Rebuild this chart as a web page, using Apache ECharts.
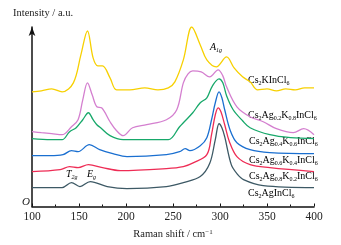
<!DOCTYPE html>
<html><head><meta charset="utf-8">
<script src="https://cdn.jsdelivr.net/npm/echarts@6/dist/echarts.min.js"></script>
<style>html,body{margin:0;padding:0;background:#fff}#c{width:341px;height:245px}</style>
</head><body><div id="c"></div>
<script>
// Raman shift (cm^-1) and intensity (a.u., offset traces)
const xTicks = [100, 150, 200, 250, 300, 350, 400];

const yellowX = [100,110,121,132,144,152,159,165,170,175,183,190,204,220,234,245,252,261,270,279,286,296,307,315,324,332,340,350,360,370,380,390,400];
const yellowY = [115,116,118,115,124,152,176,149,141,141,129,117,117,119,117,119,125,147,180,162,147,140,150,139,130,125,117,118,116,118,117,119,119];

const pinkX = [100,110,121,132,142,149,154,159,164,169,174,183,190,197,207,222,243,254,261,266,271,280,289,298,303,307,318,332,346,360,378,389,400];
const pinkY = [75,74,73,72,80,87,107,124,112,100,99,85,76,71,79,82,87,97,124,133,136,135,130,137,131,120,100,90,85,78,74,78,72];

const greenX = [100,120,132,140,147,154,160,165,169,173,183,197,220,245,257,262,271,279,286,292,299,303,307,314,324,332,353,375,400];
const greenY = [68,67,67,75,79,87,94,87,82,79,71,67,67,67,80,85,94,104,109,121,128,124,111,97,86,79,72,69,68];

const blueX = [100,119,133,142,149,161,172,186,201,243,257,263,268,279,286,291,295,299,302,305,311,318,332,353,400];
const blueY = [51,51,52,56,55,62,57,53,50,52,55,58,56,61,69,87,104,115,109,97,76,64,57,54,53];

const redX = [100,130,140,149,160,175,194,243,261,272,286,291,295,298,301,305,310,318,332,353,400];
const redY = [35,37,40,39,42,39,36,38,40,44,52,72,92,99,95,82,65,50,42,39,35];

const slateX = [100,132,142,151,162,180,201,243,261,279,289,295,299,302,305,312,318,325,346,400];
const slateY = [19,19,24,20,25,20,18,20,24,30,43,67,83,79,70,42,33,27,21,19];

const seriesNames = ['Cs2KInCl6','Cs2Ag0.2K0.8InCl6','Cs2Ag0.4K0.6InCl6','Cs2Ag0.6K0.4InCl6','Cs2Ag0.8K0.2InCl6','Cs2AgInCl6'];
const colors = ['#f7d000','#d47fcf','#17a86a','#1a6fd0','#ee2c55','#3d5965'];
const xs = [yellowX, pinkX, greenX, blueX, redX, slateX];
const ys = [yellowY, pinkY, greenY, blueY, redY, slateY];

const serif = 'Liberation Serif';
const rich = {
  n: {fontSize: 10, fontFamily: serif, color: '#222', lineHeight: 12},
  i: {fontSize: 10, fontFamily: serif, fontStyle: 'italic', color: '#222', lineHeight: 12},
  s: {fontSize: 6, fontFamily: serif, color: '#222', lineHeight: 4, verticalAlign: 'bottom'},
  si: {fontSize: 6, fontFamily: serif, fontStyle: 'italic', color: '#222', lineHeight: 4, verticalAlign: 'bottom'},
  p: {fontSize: 7, fontFamily: serif, color: '#222', lineHeight: 4, verticalAlign: 'top'}
};
function formula(parts) { return parts.map(p => '{' + p[0] + '|' + p[1] + '}').join(''); }
const labelTexts = [
  formula([['n','Cs'],['s','2'],['n','KInCl'],['s','6']]),
  formula([['n','Cs'],['s','2'],['n','Ag'],['s','0.2'],['n','K'],['s','0.8'],['n','InCl'],['s','6']]),
  formula([['n','Cs'],['s','2'],['n','Ag'],['s','0.4'],['n','K'],['s','0.6'],['n','InCl'],['s','6']]),
  formula([['n','Cs'],['s','2'],['n','Ag'],['s','0.6'],['n','K'],['s','0.4'],['n','InCl'],['s','6']]),
  formula([['n','Cs'],['s','2'],['n','Ag'],['s','0.8'],['n','K'],['s','0.2'],['n','InCl'],['s','6']]),
  formula([['n','Cs'],['s','2'],['n','AgInCl'],['s','6']])
];
const labelPos = [[248,82],[248,117],[249,143],[249,162],[249,178],[248,195]];

const graphics = labelTexts.map((t, k) => ({
  type: 'text', left: labelPos[k][0], top: labelPos[k][1] - 7, silent: true,
  style: {text: t, rich: rich}
}));
graphics.push({type: 'text', left: 210, top: 42, style: {text: formula([['i','A'],['si','1g']]), rich: rich}});
graphics.push({type: 'text', left: 66, top: 169, style: {text: formula([['i','T'],['si','2g']]), rich: rich}});
graphics.push({type: 'text', left: 87, top: 169, style: {text: formula([['i','E'],['si','g']]), rich: rich}});
graphics.push({type: 'text', left: 13, top: 8, style: {text: 'Intensity / a.u.', font: '10.5px "Liberation Serif"', fill: '#222'}});
graphics.push({type: 'text', left: 22, top: 197, style: {text: 'O', font: 'italic 11px "Liberation Serif"', fill: '#222'}});

const chart = echarts.init(document.getElementById('c'), null, {renderer: 'canvas'});
chart.setOption({
  animation: false,
  backgroundColor: '#fff',
  grid: {left: 32, right: 27, top: 27, bottom: 38},
  xAxis: {
    type: 'value', min: xTicks[0], max: xTicks[xTicks.length - 1], interval: 50,
    axisLine: {lineStyle: {color: '#111', width: 1.5}},
    axisTick: {inside: true, length: 3, lineStyle: {color: '#111', width: 1}},
    minorTick: {show: true, splitNumber: 2, length: 2, lineStyle: {color: '#111'}},
    splitLine: {show: false},
    axisLabel: {fontFamily: serif, fontSize: 11.5, color: '#222', margin: 4},
    name: '{n|Raman shift / cm}{p|−1}', nameLocation: 'middle', nameGap: 22,
    nameTextStyle: {rich: {n: {fontSize: 10.5, fontFamily: serif, color: '#222', lineHeight: 12}, p: rich.p}}
  },
  yAxis: {
    type: 'value', min: 0, max: 180,
    axisLine: {show: true, symbol: ['none', 'arrow'], symbolSize: [5, 9], lineStyle: {color: '#111', width: 1.5}},
    axisTick: {show: false}, axisLabel: {show: false}, splitLine: {show: false}
  },
  graphic: graphics,
  series: seriesNames.map((nm, k) => ({
    name: nm, type: 'line', smooth: 0.35, symbol: 'none',
    lineStyle: {color: colors[k], width: 1.3},
    data: xs[k].map((x, j) => [x, ys[k][j]])
  }))
});
</script></body></html>
